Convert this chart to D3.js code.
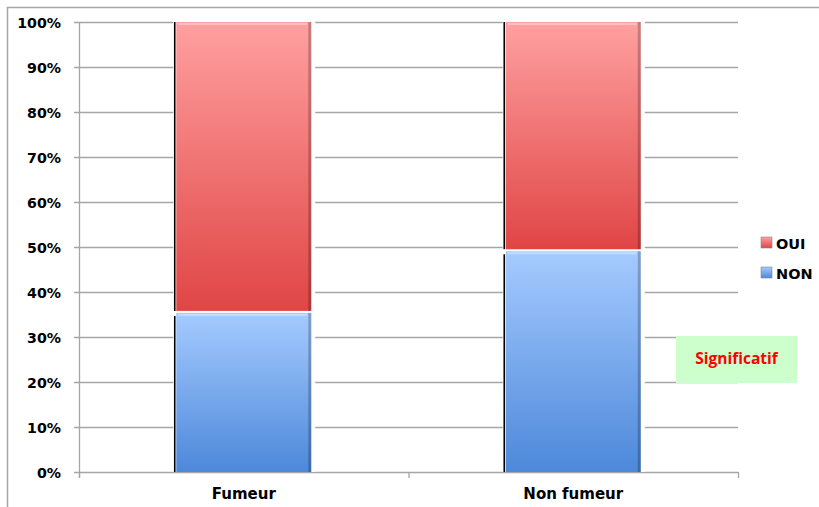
<!DOCTYPE html>
<html><head><meta charset="utf-8">
<script src="https://cdn.jsdelivr.net/npm/d3@7/dist/d3.min.js"></script>
<style>body{margin:0;background:#fff}svg{display:block}</style>
</head><body>
<script>
const categories = ["Fumeur", "Non fumeur"];
const nonValues = [35.8, 49.5];
const ouiValues = [64.2, 50.5];
const seriesNames = ["OUI", "NON"];
const yTicks = [0,10,20,30,40,50,60,70,80,90,100];
const note = "Significatif";

const W = 819, H = 507;
const FONT = "DejaVu Sans, Liberation Sans, Arial, sans-serif";
const svg = d3.select("body").append("svg").attr("width", W).attr("height", H);
const defs = svg.append("defs");
function grad(id, c1, c2){
  const g = defs.append("linearGradient").attr("id", id).attr("x1",0).attr("y1",0).attr("x2",0).attr("y2",1);
  g.append("stop").attr("offset","0%").attr("stop-color",c1);
  g.append("stop").attr("offset","100%").attr("stop-color",c2);
}
grad("gRed", "#ffa0a0", "#e04545");
grad("gBlue", "#a5cbff", "#4d88da");

// outer border
svg.append("path").attr("d", `M7.5,${H} V7.5 H${W}`).attr("fill","none").attr("stroke","#a6a6a6").attr("stroke-width",1.5);

const m = {l:79, r:738, t:22, b:472};
const x = d3.scaleBand().domain(categories).range([m.l, m.r]).paddingInner(0).paddingOuter(0);
const y = d3.scaleLinear().domain([0,100]).range([m.b, m.t]);
const bw = 135;

// gridlines
svg.append("g").selectAll("line").data(yTicks).join("line")
  .attr("x1", m.l-5).attr("x2", m.r).attr("y1", d=>y(d)+0.5).attr("y2", d=>y(d)+0.5)
  .attr("stroke","#a6a6a6").attr("stroke-width",1.3);
// y axis
svg.append("line").attr("x1", m.l+0.5).attr("x2", m.l+0.5).attr("y1", m.t).attr("y2", m.b+6).attr("stroke","#a6a6a6").attr("stroke-width",1.3);
// x axis ticks
[m.l, (m.l+m.r)/2, m.r].forEach(v=>{
  svg.append("line").attr("x1", v+0.5).attr("x2", v+0.5).attr("y1", m.b).attr("y2", m.b+6).attr("stroke","#a6a6a6").attr("stroke-width",1.3);
});

// y labels
svg.append("g").selectAll("text").data(yTicks).join("text")
  .attr("x", 61).attr("y", d=>y(d)+5.5).attr("text-anchor","end")
  .attr("font-family",FONT).attr("font-weight","bold").attr("font-size",14.2)
  .attr("fill","#000").text(d=>d+"%");

// bars
categories.forEach((c,i)=>{
  const cx = x(c) + x.bandwidth()/2;
  const x0 = cx - bw/2;
  const segs = [
    {y0:0, y1:nonValues[i], fill:"url(#gBlue)"},
    {y0:nonValues[i], y1:nonValues[i]+ouiValues[i], fill:"url(#gRed)"}
  ];
  svg.append("rect").attr("x", x0-3).attr("y", y(100)-1).attr("width", bw+7).attr("height", y(0)-y(100)+1).attr("fill","#fff");
  segs.forEach((s,k)=>{
    const top = y(s.y1) + (k===0?2:0);
    const bot = y(s.y0);
    svg.append("rect").attr("x", x0).attr("y", top).attr("width", bw).attr("height", bot-top).attr("fill", s.fill);
    svg.append("rect").attr("x", x0+bw-3).attr("y", top).attr("width", 3).attr("height", bot-top).attr("fill", "#000").attr("opacity",0.22);
    svg.append("line").attr("x1", x0-1.5).attr("x2", x0-1.5).attr("y1", top+(k===0?3:0)).attr("y2", bot).attr("stroke","#000").attr("stroke-width",1.6);
    svg.append("rect").attr("x", x0+2).attr("y", top+1).attr("width", bw-6).attr("height", 2).attr("fill","#fff").attr("opacity",0.35);
  });
  svg.append("text").attr("x", cx).attr("y", 499).attr("text-anchor","middle")
    .attr("font-family",FONT).attr("font-weight","bold").attr("font-size",15)
    .text(c);
});

// legend
const legColors = {"OUI":"url(#gRed)", "NON":"url(#gBlue)"};
seriesNames.forEach((n,i)=>{
  const ly = 243 + i*30;
  svg.append("rect").attr("x", 761).attr("y", ly-6).attr("width", 11).attr("height", 11).attr("fill", legColors[n]).attr("stroke","#888").attr("stroke-width",0.6);
  svg.append("text").attr("x", 776).attr("y", ly+5.5).attr("font-family",FONT).attr("font-weight","bold").attr("font-size",14.5).text(n);
});

// note box
svg.append("rect").attr("x", 676).attr("y", 336).attr("width", 121).attr("height", 47).attr("fill","#ccffcc");
svg.append("text").attr("x", 736.5).attr("y", 364).attr("text-anchor","middle")
  .attr("font-family","Open Sans, Liberation Sans, sans-serif").attr("font-weight","bold").attr("font-size",15.5)
  .attr("fill","#ff0000").text(note);
</script>
</body></html>
